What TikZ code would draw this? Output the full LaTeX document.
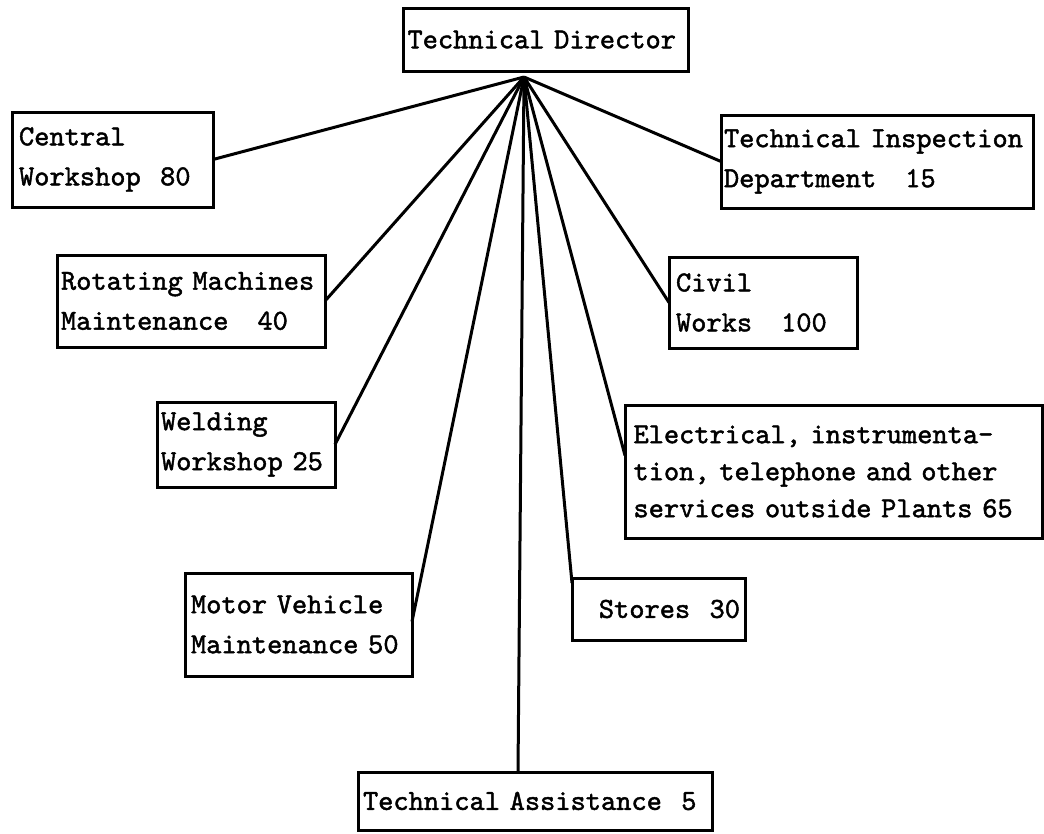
\documentclass[tikz,border=0pt]{standalone}
\usepackage{fontspec}
\newfontfamily\twfam{lmmono10-regular.otf}[FakeBold=1.6,WordSpace={1,0,0}]
\newcommand\twfont{\twfam\fontsize{29}{40}\selectfont}
\tikzset{
  box/.style={draw, line width=3pt, inner sep=0pt, outer sep=0pt, anchor=north west, font=\twfont, align=left},
  link/.style={line width=3pt},
}
\begin{document}
\begin{tikzpicture}[x=1pt,y=-1pt]
\useasboundingbox (0,0) rectangle (1044,833);
\node[box, minimum width=285pt, minimum height=63pt, text width=276pt] (td) at (403,8) {Technical Director};
\node[box, minimum width=201pt, minimum height=95pt, text width=187pt] (central) at (12,112) {Central\\Workshop\ \ 80};
\node[box, minimum width=312pt, minimum height=93pt, text width=306pt] (ti) at (721,115) {Technical Inspection\\Department\ \ \ 15};
\node[box, minimum width=268pt, minimum height=92pt, text width=260pt] (rot) at (57,255) {Rotating Machines\\Maintenance\ \ \ 40};
\node[box, minimum width=188pt, minimum height=91pt, text width=174pt] (civil) at (669,257) {Civil\\Works\ \ \ 100};
\node[box, minimum width=178pt, minimum height=85pt, text width=170pt] (weld) at (157,402) {Welding\\Workshop 25};
\node[box, minimum width=417pt, minimum height=133pt, text width=400pt, font=\twfont\fontsize{29}{37}\selectfont] (elec) at (625,405) {Electrical, instrumenta-\\tion, telephone and other\\services outside Plants 65};
\node[box, minimum width=227pt, minimum height=103pt, text width=215pt] (motor) at (185,573) {Motor Vehicle\\Maintenance 50};
\node[box, minimum width=173pt, minimum height=62pt, text width=163pt, align=right] (stores) at (572,578) {Stores\ \ 30};
\node[box, minimum width=354pt, minimum height=58pt, text width=344pt] (ta) at (358,772) {Technical Assistance\ \ 5};
\coordinate (apex) at (524,77);
\draw[link] (apex) -- (central.east);
\draw[link] (apex) -- (ti.west);
\draw[link] (apex) -- (rot.east);
\draw[link] (apex) -- (civil.west);
\draw[link] (apex) -- (weld.east);
\draw[link] (apex) -- ([yshift=16pt]elec.west);
\draw[link] (apex) -- ([yshift=3pt]motor.east);
\draw[link] (apex) -- ([yshift=-5pt]stores.north west);
\draw[link] (apex) -- ([xshift=160pt]ta.north west);
\end{tikzpicture}
\end{document}
